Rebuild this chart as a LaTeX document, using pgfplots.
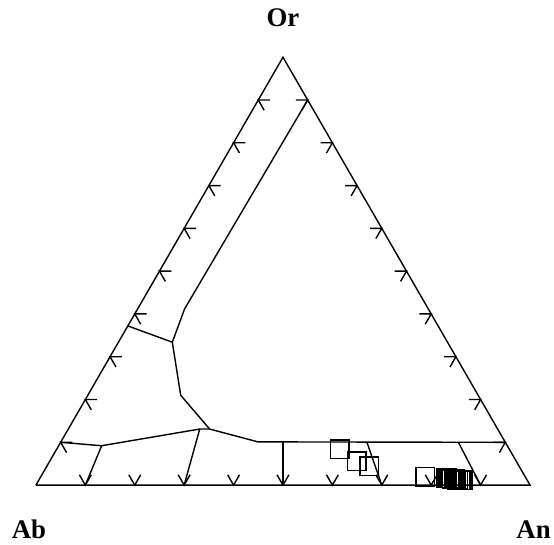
\documentclass[border=0pt]{standalone}
\usepackage{pgfplots}
\pgfplotsset{compat=1.18}
\usepackage{fontspec}
\setmainfont{Liberation Serif}

% ternary (An, Or) -> cartesian, side length 1, Ab at the origin
\pgfplotsset{
  table/tern/.style={row sep=\\,
    x expr=\thisrow{an}+0.5*\thisrow{or},
    y expr=0.8660254*\thisrow{or}},
  edge/.style={black, line width=1.4bp, line join=miter},
}
\newcommand\seg[1]{\addplot[edge] table[tern]{an or\\#1};}

\begin{document}
\begin{tikzpicture}
\begin{axis}[
  x=495bp, y=495bp,
  xmin=-0.072727, xmax=1.046465,
  ymin=-0.121212, ymax=0.981818,
  hide axis, clip=false,
]
\draw[draw=none] (rel axis cs:0,0) rectangle (rel axis cs:1,1);

% outer triangle Ab - An - Or
\seg{0 0\\1 0\\0 1\\0 0\\}

% ticks along Ab-An
\seg{0.1 0.024\\0.1 0\\0.076 0.024\\}
\seg{0.2 0.024\\0.2 0\\0.176 0.024\\}
\seg{0.3 0.024\\0.3 0\\0.276 0.024\\}
\seg{0.4 0.024\\0.4 0\\0.376 0.024\\}
\seg{0.5 0.024\\0.5 0\\0.476 0.024\\}
\seg{0.6 0.024\\0.6 0\\0.576 0.024\\}
\seg{0.7 0.024\\0.7 0\\0.676 0.024\\}
\seg{0.8 0.024\\0.8 0\\0.776 0.024\\}
\seg{0.9 0.024\\0.9 0\\0.876 0.024\\}
% ticks along Ab-Or
\seg{0.024 0.1\\0 0.1\\0.024 0.076\\}
\seg{0.024 0.2\\0 0.2\\0.024 0.176\\}
\seg{0.024 0.3\\0 0.3\\0.024 0.276\\}
\seg{0.024 0.4\\0 0.4\\0.024 0.376\\}
\seg{0.024 0.5\\0 0.5\\0.024 0.476\\}
\seg{0.024 0.6\\0 0.6\\0.024 0.576\\}
\seg{0.024 0.7\\0 0.7\\0.024 0.676\\}
\seg{0.024 0.8\\0 0.8\\0.024 0.776\\}
\seg{0.024 0.9\\0 0.9\\0.024 0.876\\}
% ticks along An-Or
\seg{0.876 0.1\\0.9 0.1\\0.9 0.076\\}
\seg{0.776 0.2\\0.8 0.2\\0.8 0.176\\}
\seg{0.676 0.3\\0.7 0.3\\0.7 0.276\\}
\seg{0.576 0.4\\0.6 0.4\\0.6 0.376\\}
\seg{0.476 0.5\\0.5 0.5\\0.5 0.476\\}
\seg{0.376 0.6\\0.4 0.6\\0.4 0.576\\}
\seg{0.276 0.7\\0.3 0.7\\0.3 0.676\\}
\seg{0.176 0.8\\0.2 0.8\\0.2 0.776\\}
\seg{0.076 0.9\\0.1 0.9\\0.1 0.876\\}

% feldspar field boundaries
\seg{0 0.100\\0.087 0.092\\0.266 0.131\\0.286 0.131\\0.399 0.101\\0.900 0.100\\}
\seg{0.087 0.092\\0.100 0\\}
\seg{0.266 0.131\\0.300 0\\}
\seg{0.450 0.100\\0.500 0\\}
\seg{0.620 0.100\\0.700 0\\}
\seg{0.805 0.100\\0.900 0\\}
\seg{0.286 0.131\\0.188 0.210\\0.109 0.334\\0 0.372\\}
\seg{0.109 0.334\\0.095 0.412\\0.100 0.900\\}

% analyses
\addplot[only marks, mark=square, mark size=9.2bp,
  mark options={black, line width=1.4bp}] table[tern]{
an or\\
0.573 0.084\\
0.6215 0.056\\
0.6525 0.0443\\
0.778 0.0198\\
0.822 0.0163\\
0.825 0.0163\\
0.829 0.0152\\
0.832 0.0152\\
0.835 0.0140\\
0.8385 0.0140\\
0.8415 0.0140\\
0.845 0.0128\\
0.848 0.0128\\
0.853 0.0117\\
0.856 0.0117\\
0.859 0.0117\\
};

\node[anchor=base, font=\fontsize{27}{31}\selectfont\bfseries] at (axis cs:0.5,0.9273) {Or};
\node[anchor=base, font=\fontsize{27}{31}\selectfont\bfseries] at (axis cs:-0.0141,-0.1071) {Ab};
\node[anchor=base, font=\fontsize{27}{31}\selectfont\bfseries] at (axis cs:1.0071,-0.1071) {An};
\end{axis}
\end{tikzpicture}
\end{document}
